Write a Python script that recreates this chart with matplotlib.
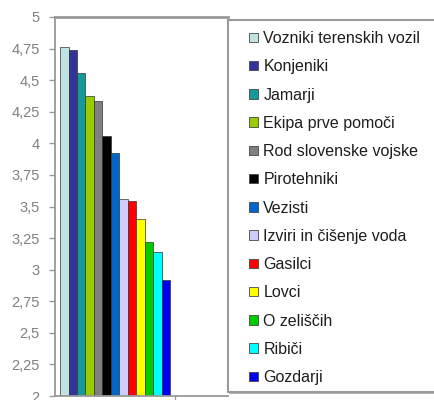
import matplotlib
matplotlib.use("Agg")
import matplotlib.pyplot as plt
import numpy as np
from matplotlib.patches import Rectangle, Patch

plt.rcParams["font.family"] = ["Liberation Sans", "DejaVu Sans"]

# categories (legend order) and their scores
groups = [
    "Vozniki terenskih vozil", "Konjeniki", "Jamarji", "Ekipa prve pomoči",
    "Rod slovenske vojske", "Pirotehniki", "Vezisti", "Izviri in čišenje voda",
    "Gasilci", "Lovci", "O zeliščih", "Ribiči", "Gozdarji",
]
scores = [4.76, 4.74, 4.56, 4.375, 4.335, 4.06, 3.92, 3.56, 3.54, 3.40, 3.22, 3.14, 2.92]
colors = [
    "#bfe3e3", "#333399", "#159999", "#99cc00", "#808080", "#000000", "#0066cc",
    "#ccccff", "#ff0000", "#ffff00", "#00cc00", "#00ffff", "#0000ee",
]
yticks = [2, 2.25, 2.5, 2.75, 3, 3.25, 3.5, 3.75, 4, 4.25, 4.5, 4.75, 5]

W, H = 435, 400
fig = plt.figure(figsize=(W / 100, H / 100), dpi=100)
ax = fig.add_axes([55 / W, 4 / H, (228 - 55) / W, (396 - 17) / H])

n = len(scores)
gap = 1.2
bw = 1.0 / (n + gap)
x = gap / 2 * bw + (np.arange(n) + 0.5) * bw
ax.bar(x, np.array(scores) - 2, width=bw, bottom=2, color=colors,
       edgecolor="#333333", linewidth=0.5, zorder=2)

ax.set_ylim(2, 5)
ax.set_xlim(0, 1.44)
ax.set_yticks(yticks)
ax.set_yticklabels([("%g" % v).replace(".", ",") for v in yticks],
                   color="#808080", fontsize=10.5)
ax.set_xticks([1.0])
ax.set_xticklabels([])
ax.tick_params(axis="y", direction="out", length=4, width=1, color="#999999", pad=7)
ax.tick_params(axis="x", direction="out", length=4, width=1, color="#999999")
for side in ["left", "bottom", "top"]:
    ax.spines[side].set_color("#999999")
    ax.spines[side].set_linewidth(1.3)
ax.spines["top"].set_linewidth(2)
ax.spines["right"].set_visible(False)

# legend box, running off the right edge
box = Rectangle((228 / W, 8 / H), (W - 228 + 4) / W, (392 - 20) / H,
                transform=fig.transFigure, facecolor="white",
                edgecolor="#9a9a9a", linewidth=1.5, zorder=5)
fig.patches.append(box)
shadow = Rectangle((229 / W, 6.5 / H), (W - 229 + 4) / W, 1.5 / H,
                   transform=fig.transFigure, facecolor="#b5b5b5",
                   edgecolor="none", zorder=4)
fig.patches.append(shadow)

handles = [Patch(facecolor=c, edgecolor="#444444", linewidth=0.6) for c in colors]
leg = fig.legend(handles, groups, loc="upper left",
                 bbox_to_anchor=(249 / W, 1 - 31 / H), frameon=False,
                 fontsize=11.5, handlelength=0.55, handleheight=0.55,
                 handletextpad=0.35, labelspacing=0.83, borderpad=0,
                 borderaxespad=0)
for t in leg.get_texts():
    t.set_color("#1e1e1e")
leg.set_zorder(6)

fig.savefig("out.png", dpi=100)
